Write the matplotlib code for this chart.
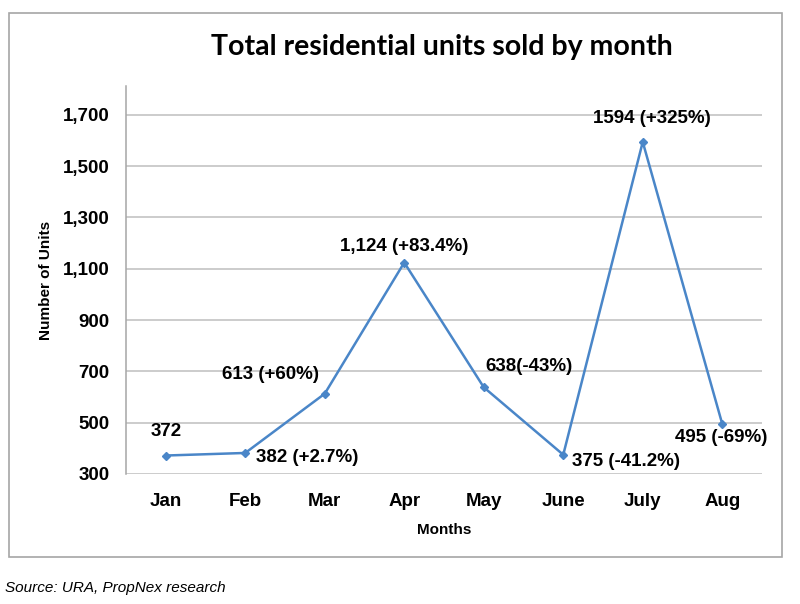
import matplotlib
matplotlib.use("Agg")
import matplotlib.pyplot as plt
from matplotlib.patches import Rectangle
from matplotlib.ticker import FuncFormatter

months = ["Jan", "Feb", "Mar", "Apr", "May", "June", "July", "Aug"]
units = [372, 382, 613, 1124, 638, 375, 1594, 495]
labels = ["372", "382 (+2.7%)", "613 (+60%)", "1,124 (+83.4%)", "638(-43%)",
          "375 (-41.2%)", "1594 (+325%)", "495 (-69%)"]
yticks = [300, 500, 700, 900, 1100, 1300, 1500, 1700]

# label offsets in points (dx, dy) and horizontal alignment
offsets = [(0, 17, "center"), (8, -3, "left"), (-39, 14, "center"), (0, 11.5, "center"),
           (1.5, 15, "left"), (6.5, -5, "left"), (6.5, 17, "center"), (-34, -9.5, "left")]

plt.rcParams['font.family'] = ['Liberation Sans', 'DejaVu Sans']

fig = plt.figure(figsize=(8, 6.04), dpi=100)
fig.patches.append(Rectangle((9/800, 1-557/604), (782-9)/800, (557-13)/604,
                             transform=fig.transFigure, fill=False,
                             edgecolor="#A6A6A6", linewidth=1.2))

ax = fig.add_axes([126/800, 1-474/604, (762-126)/800, (474-86)/604])
x = list(range(len(months)))
ax.plot(x, units, color="#4A86C8", linewidth=1.8, marker="D", markersize=4.5,
        markerfacecolor="#4A86C8", markeredgecolor="#4A86C8", zorder=3)

for xi, yi, lab, (dx, dy, ha) in zip(x, units, labels, offsets):
    ax.annotate(lab, (xi, yi), xytext=(dx, dy), textcoords="offset points",
                ha=ha, va="center", fontsize=13.5, fontweight="bold", color="#000000")

ax.set_xlim(-0.5, len(months) - 0.5)
ax.set_ylim(300, 1812)
ax.set_yticks(yticks)
ax.yaxis.set_major_formatter(FuncFormatter(lambda v, p: f"{int(v):,}"))
ax.set_xticks(x)
ax.set_xticklabels(months)
ax.tick_params(axis="both", length=0, labelsize=13.5)
ax.tick_params(axis="x", pad=14)
ax.tick_params(axis="y", pad=12)
for t in ax.get_xticklabels() + ax.get_yticklabels():
    t.set_fontweight("bold")

ax.grid(axis="y", color="#BFBFBF", linewidth=1.1)
ax.set_axisbelow(True)
for s in ["top", "right", "bottom"]:
    ax.spines[s].set_visible(False)
ax.spines["left"].set_color("#A6A6A6")
ax.spines["left"].set_linewidth(1.1)

ax.set_xlabel("Months", fontsize=11, fontweight="bold", labelpad=9)
ax.set_ylabel("Number of Units", fontsize=11, fontweight="bold", labelpad=7)

fig.text(442/800, 1-47/604, "Total residential units sold by month",
         ha="center", va="center", fontsize=20.5, fontweight="bold", family=["Lato", "DejaVu Sans"])
fig.text(5/800, 1-588/604, "Source: URA, PropNex research", ha="left", va="center",
         fontsize=11, style="italic")

fig.savefig("out.png", dpi=100)
